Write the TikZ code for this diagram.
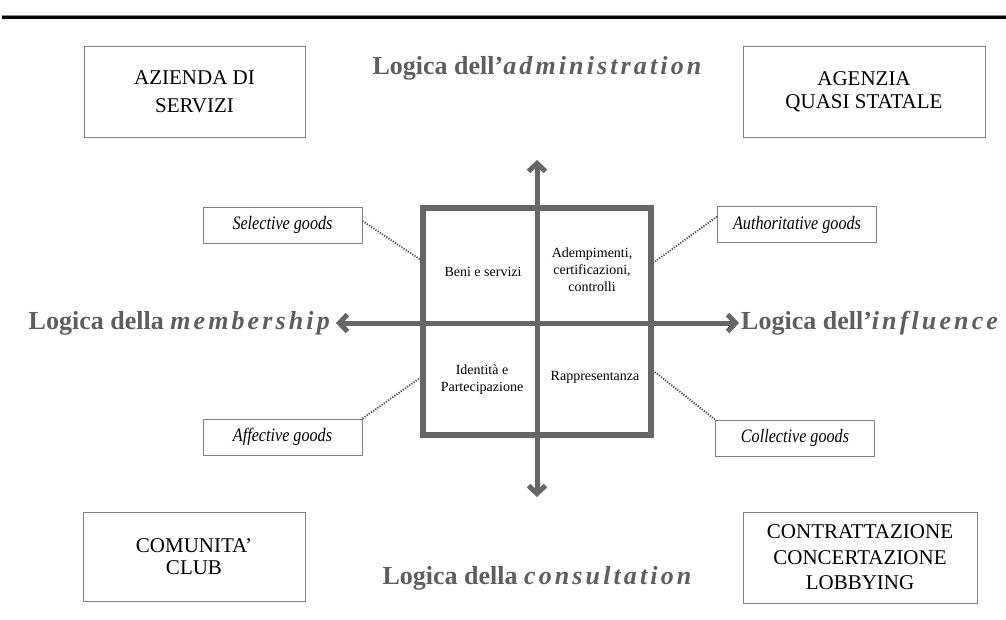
\documentclass[tikz,border=0pt]{standalone}
\usepackage{fontspec}
\setmainfont{Liberation Serif}
\newfontfamily\condit{Liberation Serif}[FakeStretch=0.85]
\newfontfamily\wideit{Liberation Serif}[LetterSpace=12]
\newcommand\lgword[1]{{\wideit\itshape #1}}
\usetikzlibrary{arrows.meta,positioning,calc}
\definecolor{axisgray}{HTML}{666666}
\definecolor{labgray}{HTML}{5E5E5E}
\definecolor{boxgray}{HTML}{808080}
\definecolor{dotgray}{HTML}{505050}

\begin{document}
\begin{tikzpicture}[x=1pt, y=-1pt,
    corner/.style={draw=boxgray, line width=1pt, align=center, font=\fontsize{21}{23}\selectfont},
    goods/.style={draw=boxgray, line width=1pt, minimum width=159pt, minimum height=36pt, font=\condit\itshape\fontsize{19}{22}\selectfont},
    logic/.style={text=labgray, inner sep=0pt, font=\bfseries\fontsize{26}{30}\selectfont},
    quad/.style={align=center, font=\fontsize{14}{17}\selectfont},
    axis/.style={draw=axisgray, line width=5pt, {Straight Barb[length=8pt,width=17pt]}-{Straight Barb[length=8pt,width=17pt]}},
    link/.style={draw=dotgray, line width=1.8pt, dash pattern=on 1.2pt off 1.4pt}]

    \useasboundingbox (0,0) rectangle (1006,619);

    % rule on top
    \draw [black!45, line width=0.8pt] (2,15.2) -- (1006,15.2);
    \draw [black, line width=2.2pt] (2,17.4) -- (1006,17.4);

    % corner boxes
    \node [corner, minimum width=221pt, minimum height=91pt] (azienda) at (194.5,91.5) {AZIENDA DI\\[5pt]SERVIZI};
    \node [corner, minimum width=242pt, minimum height=91pt] (agenzia) at (864,91.5) {AGENZIA\\QUASI STATALE};
    \node [corner, minimum width=222pt, minimum height=89pt] (comunita) at (194,556.5) {COMUNITA'\\[-1pt]CLUB};
    \node [corner, minimum width=234pt, minimum height=91pt] (contratt) at (860,557.5) {CONTRATTAZIONE\\[2.5pt]CONCERTAZIONE\\[2.5pt]LOBBYING};

    % central square
    \node [draw=axisgray, line width=6.5pt, minimum width=228pt, minimum height=227pt] (grid) at (537,321.5) {};

    % axes
    \coordinate (admtip) at (537,160);
    \coordinate (constip) at (537,497);
    \node [logic, anchor=east] (member) at (330,323) {Logica della \lgword{membership}};
    \node [logic, anchor=west] (influ) at (741,323) {Logica dell'\lgword{influence}};
    \node [logic] (admin) at (537,68) {Logica dell'\lgword{administration}};
    \node [logic] (consult) at (537,578) {Logica della \lgword{consultation}};
    \draw [axis] ([xshift=6pt]member.east) -- ([xshift=-2pt]influ.west);
    \draw [axis] (admtip) -- (constip);

    % quadrants
    \node [quad] (beni) at (483,272) {Beni e servizi};
    \node [quad] (ademp) at (592,270) {Adempimenti,\\certificazioni,\\controlli};
    \node [quad] (ident) at (482,380) {Identità e\\Partecipazione};
    \node [quad] (rappr) at (595,377) {Rappresentanza};

    % goods
    \node [goods] (selective) at (282.5,225) {Selective goods};
    \node [goods] (authorit) at (797,224.5) {Authoritative goods};
    \node [goods] (affective) at (282.5,437) {Affective goods};
    \node [goods] (collective) at (795,438) {Collective goods};

    \coordinate (selend) at (421,260);
    \coordinate (autend) at (653,263);
    \coordinate (affend) at (420,378);
    \coordinate (colend) at (655,372);
    \draw [link] ([yshift=4pt]selective.east) -- (selend);
    \draw [link] ([yshift=8pt]authorit.west) -- (autend);
    \draw [link] (affective.north east) -- (affend);
    \draw [link] (collective.north west) -- (colend);

\end{tikzpicture}
\end{document}
